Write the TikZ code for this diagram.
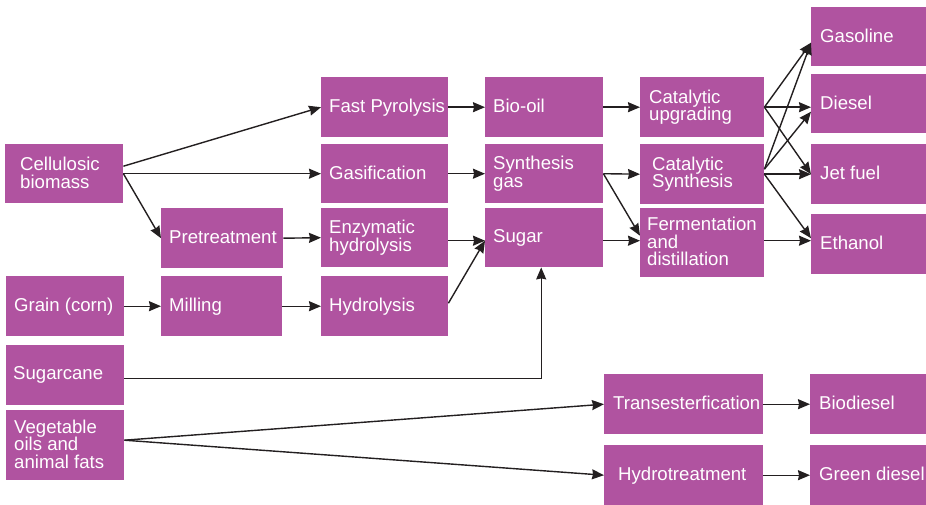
\documentclass[tikz,border=0pt]{standalone}
\usepackage{fontspec}
\setmainfont{Liberation Sans}
\usetikzlibrary{arrows.meta}
\definecolor{boxc}{RGB}{176,83,160}
\definecolor{linec}{RGB}{35,31,32}
\tikzset{
  box/.style={fill=boxc, draw=none, anchor=north west, inner sep=0pt},
  lbl/.style={anchor=west, inner sep=0pt, align=left, text=white,
    font=\fontsize{18.6}{17.5}\selectfont},
  arr/.style={draw=linec, line width=1.4pt,
    -{Stealth[length=12pt, width=10pt, inset=1pt]}},
}
% box: name, x, y (top, downwards), width, height
\newcommand\pbox[5]{\node[box, minimum width=#4pt, minimum height=#5pt] (#1) at (#2,#3) {};}
% label: box name, left padding, text (struts keep caps centred)
\newcommand\plabel[3]{\node[lbl] (#1-t) at ([xshift=#2pt]#1.west)
  {\rule{0pt}{13.3pt}#3\rule[-2pt]{0pt}{2pt}};}
\begin{document}
\begin{tikzpicture}[x=1pt, y=-1pt]
\useasboundingbox (0,0) rectangle (926,505);

% feedstocks
\pbox{cell}{5}{144}{118}{59}   \plabel{cell}{15}{Cellulosic\\biomass}
\pbox{grain}{6}{276}{118}{60}  \plabel{grain}{8}{Grain (corn)}
\pbox{cane}{6}{345}{118}{60}   \plabel{cane}{7}{Sugarcane}
\pbox{veg}{6}{410}{118}{70}    \plabel{veg}{8}{Vegetable\\oils and\\animal fats}

% first processing steps
\pbox{pret}{161}{208}{122}{60} \plabel{pret}{8}{Pretreatment}
\pbox{mill}{161}{276}{121}{60} \plabel{mill}{8}{Milling}
\pbox{fast}{321}{77}{127}{60}  \plabel{fast}{8}{Fast Pyrolysis}
\pbox{gasi}{321}{144}{127}{59} \plabel{gasi}{8}{Gasification}
\pbox{enz}{321}{208}{127}{59}  \plabel{enz}{8}{Enzymatic\\hydrolysis}
\pbox{hyd}{321}{276}{127}{60}  \plabel{hyd}{8}{Hydrolysis}

% intermediates
\pbox{bio}{485}{77}{118}{60}   \plabel{bio}{8}{Bio-oil}
\pbox{syn}{485}{144}{118}{59}  \plabel{syn}{8}{Synthesis\\gas}
\pbox{sugar}{485}{208}{118}{59}\plabel{sugar}{8}{Sugar}

% conversion
\pbox{catup}{640}{77}{124}{60}  \plabel{catup}{9}{Catalytic\\upgrading}
\pbox{catsyn}{640}{144}{124}{60}\plabel{catsyn}{12}{Catalytic\\Synthesis}
\pbox{ferm}{640}{208}{124}{69}  \plabel{ferm}{7}{Fermentation\\and\\distillation}
\pbox{trans}{604}{374}{159}{60} \plabel{trans}{9}{Transesterfication}
\pbox{hyt}{604}{445}{159}{60}   \plabel{hyt}{14}{Hydrotreatment}

% fuels
\pbox{gasol}{811}{7}{115}{59}   \plabel{gasol}{9}{Gasoline}
\pbox{dies}{811}{74}{115}{59}   \plabel{dies}{9}{Diesel}
\pbox{jet}{811}{144}{115}{60}   \plabel{jet}{9}{Jet fuel}
\pbox{eth}{811}{214}{115}{60}   \plabel{eth}{9}{Ethanol}
\pbox{biod}{810}{374}{116}{60}  \plabel{biod}{9}{Biodiesel}
\pbox{green}{810}{445}{116}{60} \plabel{green}{9}{Green diesel}

% connectors
\draw[arr] ([yshift=7.5pt]cell.east) -- (fast.west);
\draw[arr] (cell.east) -- (gasi.west);
\draw[arr] (cell.east) -- (pret.west);
\draw[arr] (pret.east) -- (enz.west);
\draw[arr] (grain.east) -- (mill.west);
\draw[arr] (mill.east) -- (hyd.west);
\draw[arr] ([yshift=3pt]hyd.east) -- ([yshift=-3pt]sugar.west);
\draw[arr] ([yshift=-3pt]enz.east) -- ([yshift=-3pt]sugar.west);
\draw[arr] (fast.east) -- (bio.west);
\draw[arr] (gasi.east) -- (syn.west);
\draw[arr] (bio.east) -- (catup.west);
\draw[arr] (syn.east) -- (catsyn.west);
\draw[arr] (syn.east) -- ([yshift=7pt]ferm.west);
\draw[arr] ([yshift=-3pt]sugar.east) -- ([yshift=-3pt]sugar.east -| ferm.west);
\draw[arr] ([yshift=-3pt]cane.east) -| ([xshift=-3pt]sugar.south);

\draw[arr] (catup.east) -- ([yshift=-6pt]gasol.west);
\draw[arr] (catup.east) -- (catup.east -| dies.west);
\draw[arr] (catup.east) -- (jet.west);
\draw[arr] ([yshift=5pt]catsyn.east) -- ([yshift=-6pt]gasol.west);
\draw[arr] ([yshift=5pt]catsyn.east) -- ([yshift=-8pt]dies.west);
\draw[arr] (catsyn.east) -- (catsyn.east -| jet.west);
\draw[arr] (catsyn.east) -- ([yshift=6pt]eth.west);
\draw[arr] ([yshift=2pt]ferm.east) -- ([yshift=2pt]ferm.east -| eth.west);

\draw[arr] ([yshift=5pt]veg.east) -- (trans.west);
\draw[arr] ([yshift=5pt]veg.east) -- (hyt.west);
\draw[arr] (trans.east) -- (biod.west);
\draw[arr] (hyt.east) -- (green.west);
\end{tikzpicture}
\end{document}
